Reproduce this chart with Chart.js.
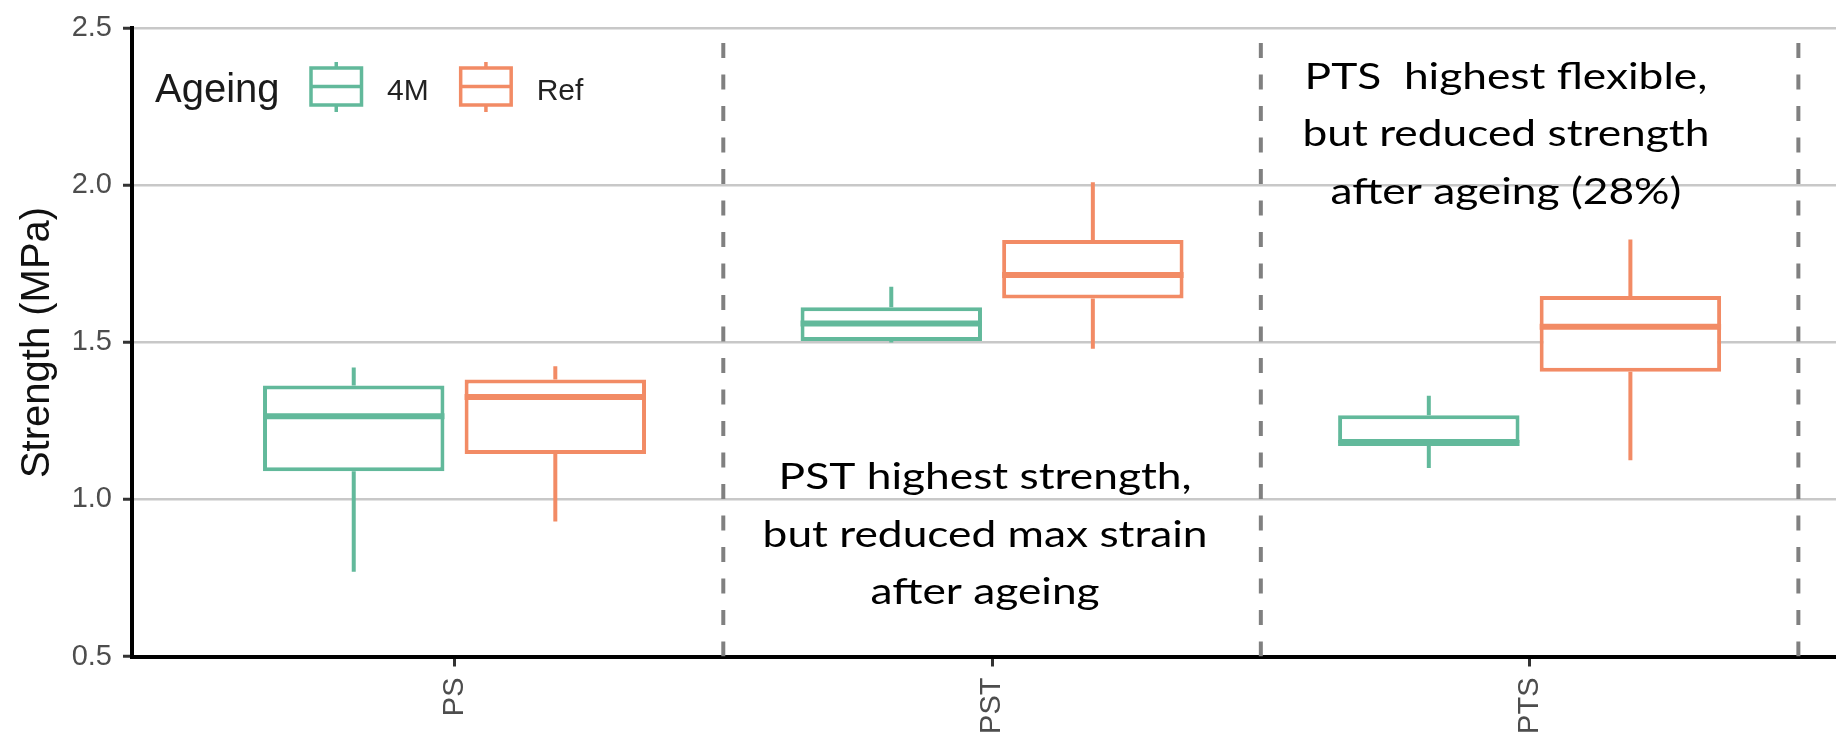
<!DOCTYPE html>
<html>
<head>
<meta charset="utf-8">
<script src="https://cdn.jsdelivr.net/npm/chart.js@4.4.1/dist/chart.umd.min.js"></script>
<style>
  html, body { margin: 0; padding: 0; background: #fff; }
  canvas { display: block; }
</style>
</head>
<body>
<canvas id="chart" width="1836" height="737"></canvas>
<script>
const categories = ["PS", "PST", "PTS"];
const seriesNames = ["4M", "Ref"];
const seriesColors = ["#62b99b", "#f28b65"];
const legendTitle = "Ageing";

// box statistics (whisker low, q1, median, q3, whisker high)
const low4M = [0.77, 1.50, 1.10];
const q1_4M = [1.09, 1.505, 1.18];
const med4M = [1.265, 1.56, 1.18];
const q3_4M = [1.363, 1.612, 1.268];
const high4M = [1.42, 1.677, 1.33];

const lowRef = [0.93, 1.48, 1.125];
const q1Ref = [1.145, 1.64, 1.407];
const medRef = [1.326, 1.715, 1.55];
const q3Ref = [1.382, 1.826, 1.648];
const highRef = [1.424, 2.01, 1.828];

const yTicks = [0.5, 1.0, 1.5, 2.0, 2.5];
const separators = [1.5, 2.5, 3.5];

const notes = [
  { x: 1.987, y: 1.033, lines: ["PST highest strength,", "but reduced max strain", "after ageing"] },
  { x: 2.956, y: 2.308, lines: ["PTS  highest flexible,", "but reduced strength", "after ageing (28%)"] },
];

const series = [
  { low: low4M, q1: q1_4M, med: med4M, q3: q3_4M, high: high4M },
  { low: lowRef, q1: q1Ref, med: medRef, q3: q3Ref, high: highRef },
];

// ggplot-like dodge: 0.75 per category, boxes 90% of their slot
const dodge = 0.75;
const boxFrac = 0.9;
const slot = dodge / series.length;
const half = (slot * boxFrac) / 2;

const datasets = [];

datasets.push({
  type: "line",
  data: separators.flatMap((x) => [
    { x: x, y: yTicks[0] },
    { x: x, y: yTicks[yTicks.length - 1] },
    { x: x, y: null },
  ]),
  borderColor: "#808080",
  borderWidth: 4,
  borderDash: [15, 16.5],
  pointRadius: 0,
  spanGaps: false,
  order: 4,
});

series.forEach((s, si) => {
  const color = seriesColors[si];
  const shift = (si - (series.length - 1) / 2) * slot;
  const cx = categories.map((c, i) => i + 1 + shift);

  // whiskers
  datasets.push({
    type: "line",
    data: cx.flatMap((x, i) => [
      { x: x, y: s.q3[i] },
      { x: x, y: s.high[i] },
      { x: x, y: null },
      { x: x, y: s.q1[i] },
      { x: x, y: s.low[i] },
      { x: x, y: null },
    ]),
    borderColor: color,
    borderWidth: 4,
    borderCapStyle: "butt",
    pointRadius: 0,
    spanGaps: false,
    order: 3,
  });

  // boxes
  datasets.push({
    type: "bar",
    label: seriesNames[si],
    data: categories.map((c, i) => ({ x: i + 1, y: [s.q1[i], s.q3[i]] })),
    backgroundColor: "#ffffff",
    borderColor: color,
    borderWidth: 4,
    borderSkipped: false,
    inflateAmount: 0,
    categoryPercentage: dodge,
    barPercentage: boxFrac,
    order: 2,
  });

  // medians
  datasets.push({
    type: "line",
    data: cx.flatMap((x, i) => [
      { x: x - half, y: s.med[i] },
      { x: x + half, y: s.med[i] },
      { x: x, y: null },
    ]),
    borderColor: color,
    borderWidth: 6,
    borderCapStyle: "butt",
    pointRadius: 0,
    spanGaps: false,
    order: 1,
  });
});

const overlay = {
  id: "overlay",
  afterDraw(chart) {
    const { ctx, scales } = chart;
    const x = scales.x;
    const y = scales.y;
    ctx.save();

    // text notes
    ctx.font = '36px "Lato"';
    ctx.fillStyle = "#000";
    ctx.textAlign = "center";
    ctx.textBaseline = "alphabetic";
    notes.forEach((n) => {
      const px = x.getPixelForValue(n.x);
      const py = y.getPixelForValue(n.y);
      n.lines.forEach((line, i) => {
        ctx.save();
        ctx.translate(px, py + i * 57.5);
        ctx.scale(1.23, 1);
        ctx.fillText(line, 0, 0);
        ctx.restore();
      });
    });

    // legend inside the panel
    ctx.textAlign = "left";
    ctx.fillStyle = "#1a1a1a";
    ctx.font = '40px "Liberation Sans"';
    ctx.fillText(legendTitle, 155, 102);

    let gx = 311;
    const gw = 50.5;
    const top = 68;
    const bottom = 105;
    seriesNames.forEach((name, i) => {
      const mid = gx + gw / 2;
      ctx.strokeStyle = seriesColors[i];
      ctx.lineWidth = 3.5;
      ctx.strokeRect(gx, top, gw, bottom - top);
      ctx.beginPath();
      ctx.moveTo(gx, (top + bottom) / 2);
      ctx.lineTo(gx + gw, (top + bottom) / 2);
      ctx.moveTo(mid, top - 6);
      ctx.lineTo(mid, top);
      ctx.moveTo(mid, bottom);
      ctx.lineTo(mid, bottom + 7);
      ctx.stroke();

      ctx.font = '30px "Liberation Sans"';
      ctx.fillStyle = "#222";
      ctx.fillText(name, gx + 76, 100);
      gx = gx + 76 + ctx.measureText(name).width + 32;
    });

    ctx.restore();
  },
};

new Chart(document.getElementById("chart").getContext("2d"), {
  type: "bar",
  data: { datasets: datasets },
  options: {
    responsive: false,
    animation: false,
    events: [],
    layout: { padding: { top: 24.3, left: 0, right: 0, bottom: 0 } },
    plugins: {
      legend: { display: false },
      tooltip: { enabled: false },
    },
    scales: {
      x: {
        type: "linear",
        min: 0.4,
        max: 3.57,
        offset: false,
        afterBuildTicks: (scale) => {
          scale.ticks = categories.map((c, i) => ({ value: i + 1 }));
        },
        afterFit: (scale) => {
          scale.height = 80.5;
          scale.paddingLeft = 0;
          scale.paddingRight = 0;
        },
        ticks: {
          autoSkip: false,
          minRotation: 90,
          maxRotation: 90,
          padding: 11,
          color: "#4d4d4d",
          font: { family: "Liberation Sans", size: 29 },
          callback: (value) => categories[value - 1] || "",
        },
        grid: {
          offset: false,
          drawOnChartArea: false,
          drawTicks: true,
          tickLength: 10,
          tickColor: "#333",
          tickWidth: 3,
        },
        border: { color: "#000", width: 4 },
      },
      y: {
        min: 0.5,
        max: 2.5,
        afterBuildTicks: (scale) => {
          scale.ticks = yTicks.map((v) => ({ value: v }));
        },
        afterFit: (scale) => {
          scale.width = 132;
        },
        ticks: {
          padding: 11,
          color: "#4d4d4d",
          font: { family: "Liberation Sans", size: 29 },
          callback: (value) => value.toFixed(1),
        },
        grid: {
          color: (c) => (c.tick && c.tick.value === yTicks[0] ? "rgba(0,0,0,0)" : "#c8c8c8"),
          lineWidth: 2.5,
          drawTicks: true,
          tickLength: 9,
          tickColor: "#333",
          tickWidth: 3,
        },
        border: { color: "#000", width: 4 },
        title: {
          display: true,
          text: "Strength (MPa)",
          color: "#111",
          font: { family: "Liberation Sans", size: 40 },
          padding: { top: 14, bottom: 0 },
        },
      },
    },
  },
  plugins: [overlay],
});
</script>
</body>
</html>
